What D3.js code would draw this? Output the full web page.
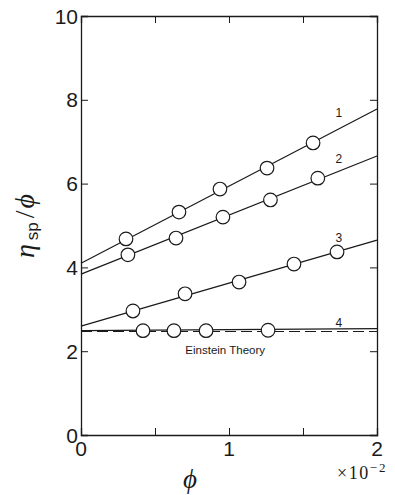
<!DOCTYPE html>
<html><head><meta charset="utf-8">
<script src="https://cdn.jsdelivr.net/npm/d3@7"></script>
<style>body{margin:0;background:#fff}svg{display:block}</style>
</head><body>
<script>
// ---- data ----
const seriesNames = ["1","2","3","4"];
const s1x = [0.304,0.662,0.939,1.257,1.568];
const s1y = [4.68,5.32,5.87,6.37,6.97];
const s2x = [0.317,0.642,0.959,1.28,1.60];
const s2y = [4.30,4.70,5.20,5.61,6.13];
const s3x = [0.351,0.703,1.068,1.439,1.73];
const s3y = [2.96,3.37,3.65,4.08,4.37];
const s4x = [0.419,0.628,0.845,1.264];
const s4y = [2.49,2.49,2.49,2.50];
// fitted lines: value at phi=0 and phi=2 (x10^-2)
const fitStart = [4.10,3.84,2.60,2.49];
const fitEnd   = [7.78,6.66,4.65,2.54];
const einsteinValue = 2.47;
const xTickLabels = [0,1,2];
const xMinorTicks = [0.5,1,1.5];
const yTickLabels = [0,2,4,6,8,10];
const yMinorTicks = [2,4,6,8];
const seriesLabelX = 1.72;
const seriesLabelY = [7.70,6.60,4.72,2.68];

const W=395,H=495;
const m={l:81,r:18,t:16,b:60};
const svg=d3.select("body").append("svg").attr("width",W).attr("height",H);
const x=d3.scaleLinear().domain([0,2]).range([m.l,W-m.r]);
const y=d3.scaleLinear().domain([0,10]).range([H-m.b,m.t]);
const ink="#1a1a1a";

// axes box
const tl=7;
const axB=d3.axisBottom(x).tickValues(xMinorTicks).tickSize(-tl).tickFormat("");
const axT=d3.axisTop(x).tickValues(xMinorTicks).tickSize(-tl).tickFormat("");
const axL=d3.axisLeft(y).tickValues(yMinorTicks).tickSize(-tl).tickFormat("");
const axR=d3.axisRight(y).tickValues(yMinorTicks).tickSize(-tl).tickFormat("");
[[axB,`translate(0,${y(0)})`],[axT,`translate(0,${y(10)})`],[axL,`translate(${x(0)},0)`],[axR,`translate(${x(2)},0)`]].forEach(([a,t])=>{
  const g=svg.append("g").attr("transform",t).call(a);
  g.select(".domain").attr("stroke",ink).attr("stroke-width",1.3);
  g.selectAll(".tick line").attr("stroke",ink).attr("stroke-width",1);
});

// tick labels
svg.append("g").selectAll("text").data(yTickLabels).join("text")
  .attr("x",x(0)-3).attr("y",d=>y(d)).attr("dy","0.36em")
  .attr("text-anchor","end").attr("font-family","Liberation Sans, Arial, sans-serif")
  .attr("font-size",21).attr("fill",ink).text(d=>d);
svg.append("g").selectAll("text").data(xTickLabels).join("text")
  .attr("x",d=>x(d)).attr("y",y(0)+21)
  .attr("text-anchor","middle").attr("font-family","Liberation Sans, Arial, sans-serif")
  .attr("font-size",21).attr("fill",ink).text(d=>d);

// x10^-2
const mult=svg.append("text").attr("x",337).attr("y",479)
  .attr("font-family","Liberation Serif, Times New Roman, serif").attr("font-size",18).attr("fill",ink);
mult.append("tspan").attr("letter-spacing",1.5).text("\u00d710");
mult.append("tspan").attr("dy",-7).attr("font-size",13).attr("letter-spacing",2).text("\u22122");

// axis titles
svg.append("text").attr("x",190).attr("y",488).attr("text-anchor","middle")
  .attr("font-family","Liberation Serif, Times New Roman, serif").attr("font-style","italic")
  .attr("font-size",27).attr("fill",ink).text("\u03d5");
const yl=svg.append("text").attr("transform","translate(34,226) rotate(-90)").attr("text-anchor","middle")
  .attr("font-family","Liberation Serif, Times New Roman, serif").attr("fill",ink);
yl.append("tspan").attr("font-style","italic").attr("font-size",28).text("\u03b7");
yl.append("tspan").attr("font-family","Liberation Sans, Arial, sans-serif").attr("font-size",17).attr("dy",4).attr("dx",4).text("sp");
yl.append("tspan").attr("font-size",28).attr("dy",-4).attr("dx",4).text("/");
yl.append("tspan").attr("font-style","italic").attr("font-size",28).attr("dx",2).text("\u03d5");

// Einstein theory dashed line
svg.append("line").attr("x1",x(0)).attr("x2",x(2)).attr("y1",y(einsteinValue)).attr("y2",y(einsteinValue))
  .attr("stroke",ink).attr("stroke-width",1.1).attr("stroke-dasharray","11,5");
svg.append("text").attr("x",x(0.705)).attr("y",y(einsteinValue)+22)
  .attr("font-family","Liberation Sans, Arial, sans-serif").attr("font-size",11.5).attr("fill",ink).text("Einstein Theory");

// fit lines
const line=d3.line().x(d=>x(d[0])).y(d=>y(d[1]));
fitStart.forEach((v,i)=>{
  svg.append("path").attr("d",line([[0,v],[2,fitEnd[i]]])).attr("fill","none").attr("stroke",ink).attr("stroke-width",1.2);
});

// points
const allX=[s1x,s2x,s3x,s4x], allY=[s1y,s2y,s3y,s4y];
allX.forEach((xs,i)=>{
  svg.append("g").selectAll("circle").data(xs.map((v,j)=>[v,allY[i][j]])).join("circle")
    .attr("cx",d=>x(d[0])).attr("cy",d=>y(d[1])).attr("r",6.8)
    .attr("fill","#fff").attr("stroke",ink).attr("stroke-width",1.2);
});

// series labels
svg.append("g").selectAll("text").data(seriesNames).join("text")
  .attr("x",x(seriesLabelX)).attr("y",(d,i)=>y(seriesLabelY[i])).attr("dy","0.36em")
  .attr("font-family","Liberation Sans, Arial, sans-serif").attr("font-size",12).attr("fill",ink).text(d=>d);
</script>
</body></html>
